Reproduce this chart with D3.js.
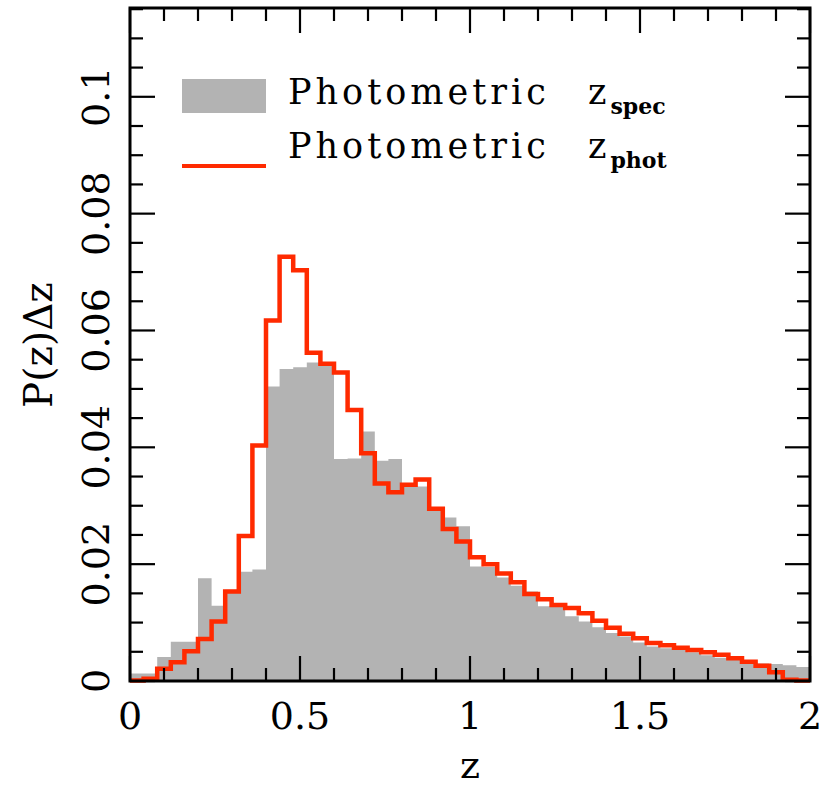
<!DOCTYPE html>
<html>
<head>
<meta charset="utf-8">
<script src="https://cdn.jsdelivr.net/npm/d3@7"></script>
<style>
body { margin:0; background:#fff; }
svg text { font-family:"DejaVu Serif", serif; fill:#000; }
</style>
</head>
<body>
<svg></svg>
<script>
// histogram bins, 0.04 wide, from z=0 to z=2
var binWidth = 0.04;
var specValues = [0.0013,0.0013,0.0041,0.0067,0.0067,0.0176,0.0129,0.0156,0.0187,0.0191,
                  0.0504,0.0534,0.0537,0.0545,0.0539,0.0380,0.0381,0.0427,0.0377,0.0380,
                  0.0333,0.0333,0.0291,0.0280,0.0265,0.0196,0.0195,0.0177,0.0163,0.0153,
                  0.0128,0.0128,0.0111,0.0102,0.0092,0.0082,0.0076,0.0066,0.0059,0.0056,
                  0.0053,0.0049,0.0044,0.0040,0.0036,0.0032,0.0030,0.0029,0.0027,0.0024];
var photValues = [0.0001,0.0004,0.0021,0.0032,0.0051,0.0072,0.0102,0.0153,0.0248,0.0403,
                  0.0617,0.0726,0.0703,0.0562,0.0543,0.0528,0.0464,0.0390,0.0338,0.0323,
                  0.0336,0.0345,0.0295,0.0260,0.0239,0.0212,0.0200,0.0184,0.0169,0.0149,
                  0.0140,0.0130,0.0125,0.0116,0.0103,0.0091,0.0081,0.0073,0.0065,0.0061,
                  0.0057,0.0053,0.0049,0.0045,0.0039,0.0033,0.0026,0.0015,0.0002,0.0001];
var xTicks = [0,0.5,1,1.5,2];
var xTickLabels = ["0","0.5","1","1.5","2"];
var yTicks = [0,0.02,0.04,0.06,0.08,0.1];
var yTickLabels = ["0","0.02","0.04","0.06","0.08","0.1"];
var legendNames = ["Photometric","Photometric"];
var legendSubs = ["spec","phot"];

var screen = {width:829,height:787}
var margins = {left:130,right:19,top:8,bottom:106}
var graph = {
    width:screen.width-margins.left-margins.right,
    height:screen.height-margins.top-margins.bottom
}

var svg = d3.select("svg")
    .attr("width",screen.width)
    .attr("height",screen.height)

var xScale = d3.scaleLinear()
    .domain([0,2])
    .range([0,graph.width])
var yScale = d3.scaleLinear()
    .domain([0,0.1152])
    .range([graph.height,0])

var target = svg.append("g")
    .attr("transform","translate("+margins.left+","+margins.top+")")

// turn bin values into step points
var stepPoints = function(values)
{
    var pts = [];
    values.forEach(function(v,i)
    {
        pts.push({x:i*binWidth,y:v});
        pts.push({x:(i+1)*binWidth,y:v});
    })
    return pts;
}

var area = d3.area()
    .x(function(d){return xScale(d.x)})
    .y0(yScale(0))
    .y1(function(d){return yScale(d.y)})
target.append("path")
    .datum(stepPoints(specValues))
    .attr("d",area)
    .attr("fill","#b3b3b3")

var line = d3.line()
    .x(function(d){return xScale(d.x)})
    .y(function(d){return yScale(d.y)})
target.append("path")
    .datum(stepPoints(photValues))
    .attr("d",line)
    .attr("fill","none")
    .attr("stroke","#ff2a00")
    .attr("stroke-width",4.5)
    .attr("stroke-linejoin","miter")

// ticks on all four sides, pointing in
var xMinor = d3.range(0,2.0001,0.1);
var yMinor = d3.range(0,0.1151,0.005);
var isMajorX = function(v){return Math.abs(v*2-Math.round(v*2))<1e-6}
var isMajorY = function(v){return Math.abs(v*50-Math.round(v*50))<1e-6}
var ticks = target.append("g")
    .attr("stroke","#000")
    .attr("stroke-width",2.2)
ticks.selectAll(".xb").data(xMinor).enter().append("line")
    .attr("x1",function(d){return xScale(d)})
    .attr("x2",function(d){return xScale(d)})
    .attr("y1",graph.height)
    .attr("y2",function(d){return graph.height-(isMajorX(d)?25:13)})
ticks.selectAll(".xt").data(xMinor).enter().append("line")
    .attr("x1",function(d){return xScale(d)})
    .attr("x2",function(d){return xScale(d)})
    .attr("y1",0)
    .attr("y2",function(d){return isMajorX(d)?25:13})
ticks.selectAll(".yl").data(yMinor).enter().append("line")
    .attr("y1",function(d){return yScale(d)})
    .attr("y2",function(d){return yScale(d)})
    .attr("x1",0)
    .attr("x2",function(d){return isMajorY(d)?25:13})
ticks.selectAll(".yr").data(yMinor).enter().append("line")
    .attr("y1",function(d){return yScale(d)})
    .attr("y2",function(d){return yScale(d)})
    .attr("x1",graph.width)
    .attr("x2",function(d){return graph.width-(isMajorY(d)?25:13)})

target.append("rect")
    .attr("width",graph.width)
    .attr("height",graph.height)
    .attr("fill","none")
    .attr("stroke","#000")
    .attr("stroke-width",3)

// tick labels
target.selectAll(".xlab").data(xTicks).enter().append("text")
    .text(function(d,i){return xTickLabels[i]})
    .attr("x",function(d){return xScale(d)})
    .attr("y",graph.height+48)
    .attr("text-anchor","middle")
    .style("font-size","38px")
target.selectAll(".ylab").data(yTicks).enter().append("text")
    .text(function(d,i){return yTickLabels[i]})
    .attr("transform",function(d){return "translate(-21,"+yScale(d)+") rotate(-90)"})
    .attr("text-anchor","middle")
    .style("font-size","38px")

// axis labels
svg.append("text")
    .text("z")
    .attr("x",margins.left+graph.width/2)
    .attr("y",778)
    .attr("text-anchor","middle")
    .style("font-size","38px")
svg.append("text")
    .text("P(z)\u0394z")
    .attr("transform","translate(52,"+(margins.top+yScale(0.0575))+") rotate(-90)")
    .attr("text-anchor","middle")
    .style("font-size","39px")

// legend
var legend = svg.append("g")
legend.append("rect")
    .attr("x",182).attr("y",79)
    .attr("width",84).attr("height",34)
    .attr("fill","#b3b3b3")
legend.append("line")
    .attr("x1",182).attr("x2",266)
    .attr("y1",166).attr("y2",166)
    .attr("stroke","#ff2a00")
    .attr("stroke-width",4)
var entries = legend.selectAll(".entry").data(legendNames).enter().append("text")
    .attr("x",288)
    .attr("y",function(d,i){return 104+i*54})
    .style("font-size","35px")
    .style("letter-spacing","4px")
entries.append("tspan").text(function(d){return d})
entries.append("tspan").attr("x",588).text("z")
entries.append("tspan")
    .text(function(d,i){return legendSubs[i]})
    .attr("dy",10)
    .style("font-size","22px")
    .style("font-weight","bold")
    .style("letter-spacing","0px")
</script>
</body>
</html>
